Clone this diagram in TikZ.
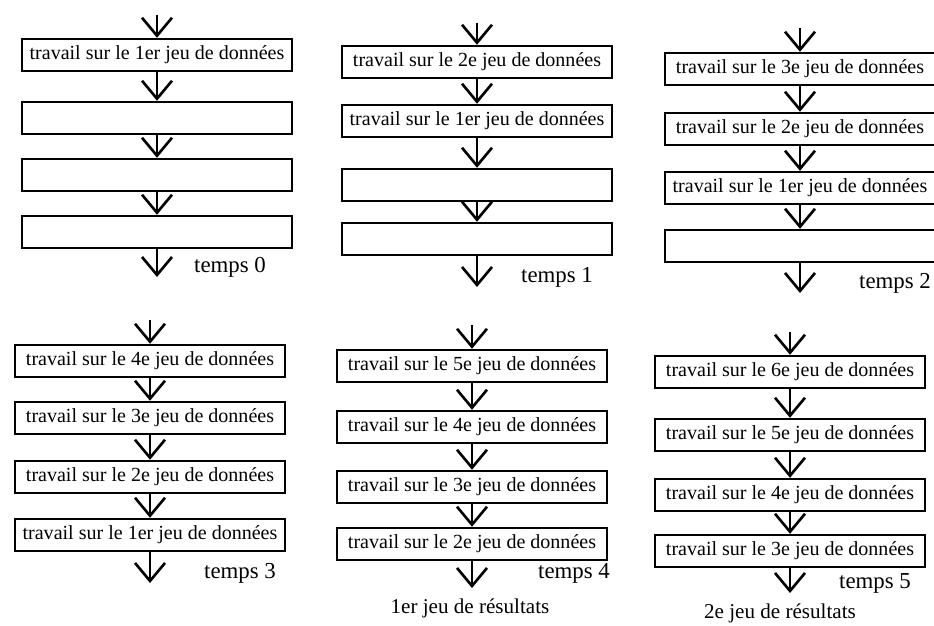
\documentclass[tikz,border=0pt]{standalone}
\usepackage{fontspec}
\setmainfont{Liberation Serif}
\usetikzlibrary{arrows.meta}
\tikzset{
  box/.style={draw,line width=1.4pt,minimum width=54mm,minimum height=6.4mm,
              inner sep=0pt,font=\fontsize{11.4}{13}\selectfont},
  ln/.style={-{Straight Barb[length=3.6mm,width=6mm]},line width=1.5pt},
  lbl/.style={font=\fontsize{13}{15}\selectfont,inner sep=0pt},
  res/.style={font=\fontsize{12}{14}\selectfont,inner sep=0pt},
}
% text of a stage: data set #1, nothing when there is none yet
\newcommand{\jeu}[1]{\ifnum#1>1 travail sur le #1e jeu de données\else
  \ifnum#1=1 travail sur le 1er jeu de données\fi\fi}

\begin{document}
\begin{tikzpicture}[x=0.2mm,y=-0.2mm]
\useasboundingbox (0,0) rectangle (934,625);

% ------------------------------------------------ the six time steps
% panel / centre / last set / in / four boxes / out / label
\foreach \p/\cx/\k/\ytop/\ya/\yb/\yc/\yd/\ybot/\tx/\ty in {%
  0/157/1/15/55/118/175/232/277/230/267,
  1/477/2/23/62/121/185/239/287/557/277,
  2/800/3/28/69/129/188/246/293/895/283,
  3/150/4/320/361/418/477/535/583/240/573,
  4/472/5/325/366/427/487/544/588/574/573,
  5/790/6/332/372/435/495/551/593/875/583}
{
  \foreach \yy [count=\i from 1] in {\ya,\yb,\yc,\yd}{
    \pgfmathtruncatemacro{\d}{\k-\i+1}
    \node[box] (b\p\i) at (\cx,\yy) {\jeu{\d}};
  }
  \coordinate (in\p) at (\cx,\ytop);
  \coordinate (out\p) at (\cx,\ybot);
  \draw[ln] (in\p) -- (b\p1);
  \draw[ln] (b\p1) -- (b\p2);
  \draw[ln] (b\p2) -- (b\p3);
  \draw[ln] (b\p3) -- (b\p4);
  \draw[ln] (b\p4) -- (out\p);
  \node[lbl] (t\p) at (\tx,\ty) {temps \p};
}

% ------------------------------------------------ results leaving the pipe
\node[res] (r4) at (470,608) {1er jeu de résultats};
\node[res] (r5) at (780,613) {2e jeu de résultats};

\end{tikzpicture}
\end{document}
